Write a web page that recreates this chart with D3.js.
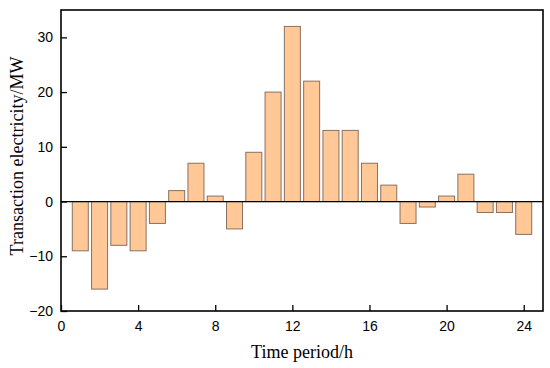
<!DOCTYPE html>
<html><head><meta charset="utf-8">
<script src="https://cdn.jsdelivr.net/npm/d3@7"></script>
<style>body{margin:0;background:#fff}</style>
</head><body>
<svg id="c" width="550" height="368"></svg>
<script>
const hours = [1,2,3,4,5,6,7,8,9,10,11,12,13,14,15,16,17,18,19,20,21,22,23,24];
const values = [-9,-16,-8,-9,-4,2,7,1,-5,9,20,32,22,13,13,7,3,-4,-1,1,5,-2,-2,-6];
const xTicks = [0,4,8,12,16,20,24];
const yTicks = [-20,-10,0,10,20,30];
const xTitle = "Time period/h";
const yTitle = "Transaction electricity/MW";

const svg = d3.select("#c");
const L = 61, R = 543, T = 10, B = 311;
const x = d3.scaleLinear().domain([0,25]).range([L,R]);
const y = d3.scaleLinear().domain([-20,35]).range([B,T]);
const bw = (x(1)-x(0))*0.83;

svg.append("g").selectAll("rect").data(hours).join("rect")
  .attr("x", (d)=> x(d)-bw/2)
  .attr("width", bw)
  .attr("y", (d,i)=> y(Math.max(0, values[i])))
  .attr("height", (d,i)=> Math.abs(y(values[i]) - y(0)))
  .attr("fill", "#FFC896")
  .attr("stroke", "#8a7060")
  .attr("stroke-width", 1);

// zero line
svg.append("line").attr("x1", L).attr("x2", R).attr("y1", y(0)).attr("y2", y(0))
  .attr("stroke", "#000").attr("stroke-width", 1.3);

const xAxis = svg.append("g").attr("transform", `translate(0,${B})`)
  .call(d3.axisBottom(x).tickValues(xTicks).tickSize(-6).tickPadding(10).tickFormat(d3.format("d")));
const yAxis = svg.append("g").attr("transform", `translate(${L},0)`)
  .call(d3.axisLeft(y).tickValues(yTicks).tickSize(-6).tickPadding(8).tickFormat(d3.format("d")));
[xAxis, yAxis].forEach(g => {
  g.select(".domain").remove();
  g.selectAll("line").attr("stroke", "#000").attr("stroke-width", 1.3);
  g.selectAll("text").attr("font-family", "Liberation Sans, Arial, sans-serif").attr("font-size", 14).attr("fill", "#000");
});

svg.append("rect").attr("x", L).attr("y", T).attr("width", R-L).attr("height", B-T)
  .attr("fill", "none").attr("stroke", "#000").attr("stroke-width", 1.6);

svg.append("text").attr("x", 302).attr("y", 358).attr("text-anchor", "middle")
  .attr("font-family", "Liberation Serif, Times New Roman, serif").attr("font-size", 18)
  .text(xTitle);
svg.append("text").attr("transform", `translate(23,156) rotate(-90)`).attr("text-anchor", "middle")
  .attr("font-family", "Liberation Serif, Times New Roman, serif").attr("font-size", 18)
  .text(yTitle);
</script>
</body></html>
